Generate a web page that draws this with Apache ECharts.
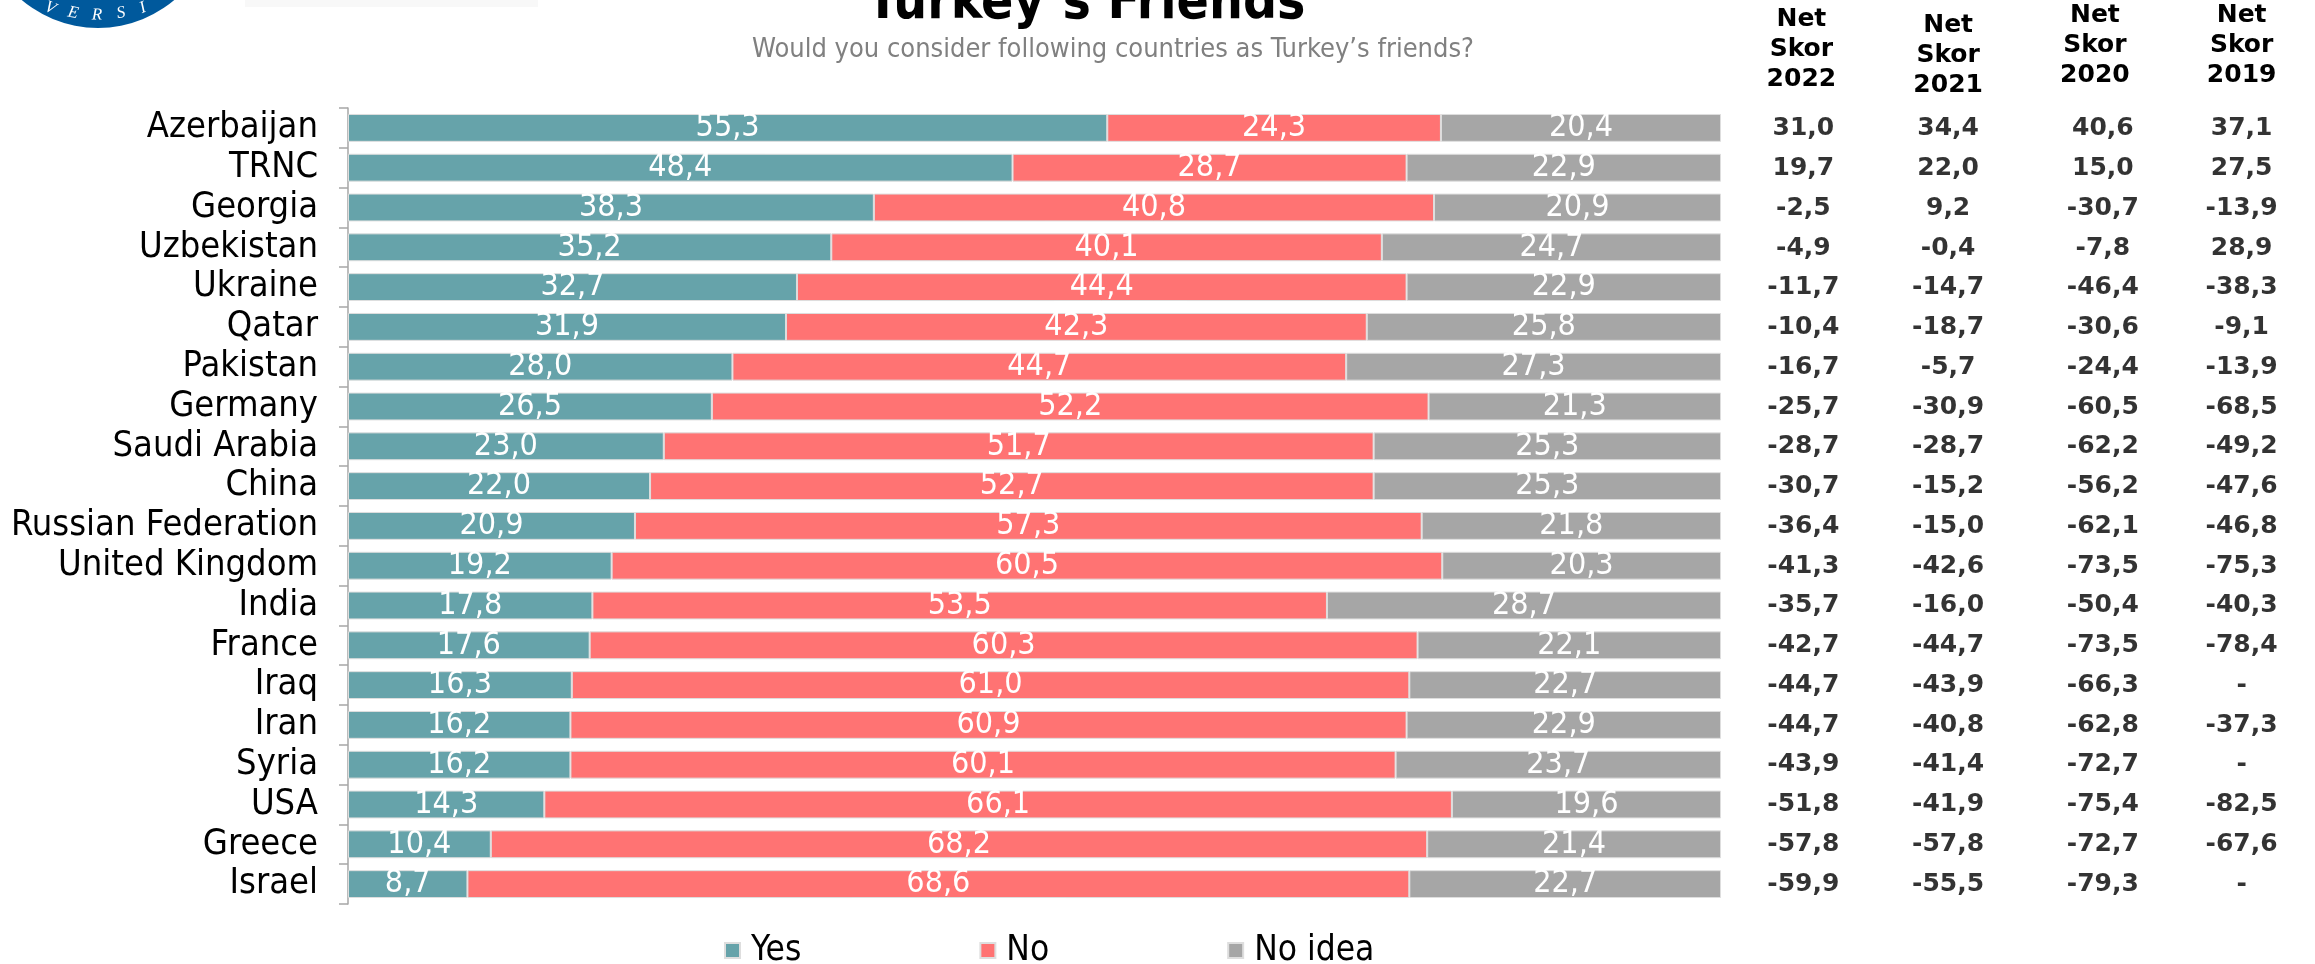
<!DOCTYPE html>
<html>
<head>
<meta charset="utf-8">
<script src="https://cdn.jsdelivr.net/npm/echarts@6/dist/echarts.min.js"></script>
<style>
html,body{margin:0;padding:0;background:#fff;}
#chart{width:2315px;height:964px;}
</style>
</head>
<body>
<div id="chart"></div>
<script>
const categories = ['Azerbaijan','TRNC','Georgia','Uzbekistan','Ukraine','Qatar','Pakistan','Germany','Saudi Arabia','China','Russian Federation','United Kingdom','India','France','Iraq','Iran','Syria','USA','Greece','Israel'];
const yesValues = [55.3,48.4,38.3,35.2,32.7,31.9,28.0,26.5,23.0,22.0,20.9,19.2,17.8,17.6,16.3,16.2,16.2,14.3,10.4,8.7];
const noValues = [24.3,28.7,40.8,40.1,44.4,42.3,44.7,52.2,51.7,52.7,57.3,60.5,53.5,60.3,61.0,60.9,60.1,66.1,68.2,68.6];
const noIdeaValues = [20.4,22.9,20.9,24.7,22.9,25.8,27.3,21.3,25.3,25.3,21.8,20.3,28.7,22.1,22.7,22.9,23.7,19.6,21.4,22.7];
const seriesNames = ['Yes','No','No idea'];
const netHeaders = ['Net\nSkor\n2022','Net\nSkor\n2021','Net\nSkor\n2020','Net\nSkor\n2019'];
const net2022 = [31.0,19.7,-2.5,-4.9,-11.7,-10.4,-16.7,-25.7,-28.7,-30.7,-36.4,-41.3,-35.7,-42.7,-44.7,-44.7,-43.9,-51.8,-57.8,-59.9];
const net2021 = [34.4,22.0,9.2,-0.4,-14.7,-18.7,-5.7,-30.9,-28.7,-15.2,-15.0,-42.6,-16.0,-44.7,-43.9,-40.8,-41.4,-41.9,-57.8,-55.5];
const net2020 = [40.6,15.0,-30.7,-7.8,-46.4,-30.6,-24.4,-60.5,-62.2,-56.2,-62.1,-73.5,-50.4,-73.5,-66.3,-62.8,-72.7,-75.4,-72.7,-79.3];
const net2019 = [37.1,27.5,-13.9,28.9,-38.3,-9.1,-13.9,-68.5,-49.2,-47.6,-46.8,-75.3,-40.3,-78.4,null,-37.3,null,-82.5,-67.6,null];
const titleText = 'Turkey\u2019s Friends';
const subtitleText = 'Would you consider following countries as Turkey\u2019s friends?';

const F = '"DejaVu Sans Condensed", "DejaVu Sans", sans-serif';
const FB = '"DejaVu Sans", sans-serif';
const colors = ['#66A3AA', '#FF7373', '#A6A6A6'];
const fmt = v => (v === null || v === undefined) ? '-' : v.toFixed(1).replace('.', ',');

// per-column header nudges (style only)
const headerPadBottom = [6, 0, 10, 10];
const colShift = [2, 0, 8, 0];

const netCols = [net2022, net2021, net2020, net2019];
const tableData = [];
netCols.forEach((col, ci) => {
  col.forEach((v, ri) => {
    tableData.push({ value: [ci, ri], txt: fmt(v), label: { offset: [colShift[ci], 0] } });
  });
});

const barSeries = [yesValues, noValues, noIdeaValues].map((vals, i) => ({
  name: seriesNames[i],
  type: 'bar',
  stack: 'total',
  xAxisIndex: 0,
  yAxisIndex: 0,
  barCategoryGap: '30%',
  data: vals,
  itemStyle: { color: colors[i], borderColor: '#dedede', borderWidth: 1 },
  label: {
    show: true,
    position: 'inside',
    color: '#ffffff',
    fontFamily: F,
    fontSize: 32,
    formatter: p => fmt(p.value)
  }
}));

// Logo letters along arc
const logoCx = 98, logoCy = -90, logoR = 118;
const logoLetters = [
  { t: 'V', x: 50, y: 8 },
  { t: 'E', x: 73, y: 13 },
  { t: 'R', x: 97, y: 15 },
  { t: 'S', x: 121, y: 13 },
  { t: 'I', x: 143, y: 8 }
];
const logoGraphics = [
  { type: 'circle', shape: { cx: logoCx, cy: logoCy, r: logoR }, style: { fill: '#00599C' }, z: 10 },
  { type: 'rect', shape: { x: 245, y: 0, width: 293, height: 7 }, style: { fill: '#f8f8f8' }, z: 10 }
].concat(logoLetters.map(l => ({
  type: 'text',
  x: l.x, y: l.y,
  rotation: -Math.asin((logoCx - l.x) / logoR),
  z: 11,
  style: { text: l.t, fill: '#ffffff', font: 'italic 17px "Liberation Serif", serif', align: 'center', verticalAlign: 'middle' }
})));

const chart = echarts.init(document.getElementById('chart'), null, { renderer: 'canvas' });
chart.setOption({
  animation: false,
  backgroundColor: '#ffffff',
  textStyle: { fontFamily: F },
  graphic: logoGraphics.concat([
    { type: 'text', x: 1086, y: 4, z: 12,
      style: { text: titleText, fill: '#000', font: 'bold 53px "DejaVu Sans Condensed", "DejaVu Sans", sans-serif', align: 'center', verticalAlign: 'middle' } },
    { type: 'text', x: 1113, y: 50, z: 12,
      style: { text: subtitleText, fill: '#808080', font: '27px "DejaVu Sans Condensed", "DejaVu Sans", sans-serif', align: 'center', verticalAlign: 'middle' } }
  ]),
  legend: {
    data: seriesNames,
    left: 719,
    top: 928,
    icon: 'rect',
    itemWidth: 15,
    itemHeight: 15,
    itemGap: 178,
    textStyle: { fontFamily: F, fontSize: 35, color: '#000', padding: [0, 0, 0, 6] }
  },
  grid: [
    { left: 348, right: 594, top: 108, bottom: 60 },
    { left: 1728, width: 600, top: 108, bottom: 60 }
  ],
  xAxis: [
    { type: 'value', gridIndex: 0, min: 0, max: 100, show: false },
    { type: 'category', gridIndex: 1, position: 'top',
      data: netHeaders.map((h, i) => ({ value: h, textStyle: { padding: [0, 0, headerPadBottom[i], 0] } })),
      axisLine: { show: false }, axisTick: { show: false }, splitLine: { show: false },
      axisLabel: { fontFamily: FB, fontWeight: 'bold', fontSize: 25, lineHeight: 30, color: '#000', margin: 9, interval: 0 } }
  ],
  yAxis: [
    { type: 'category', gridIndex: 0, data: categories, inverse: true,
      axisLine: { show: true, lineStyle: { color: '#A6A6A6', width: 1.5 } },
      axisTick: { show: true, length: 9, lineStyle: { color: '#A6A6A6', width: 1.5 } },
      axisLabel: { fontFamily: F, fontSize: 36, color: '#000', margin: 30, interval: 0 } },
    { type: 'category', gridIndex: 1, data: categories, inverse: true, show: false }
  ],
  series: barSeries.concat([{
    type: 'scatter',
    xAxisIndex: 1,
    yAxisIndex: 1,
    symbolSize: 1,
    itemStyle: { color: 'rgba(0,0,0,0)' },
    data: tableData,
    label: {
      show: true,
      position: 'inside',
      color: '#000',
      fontFamily: FB,
      fontWeight: 'bold',
      fontSize: 25,
      formatter: p => p.data.txt
    },
    silent: true
  }])
});
</script>
</body>
</html>
